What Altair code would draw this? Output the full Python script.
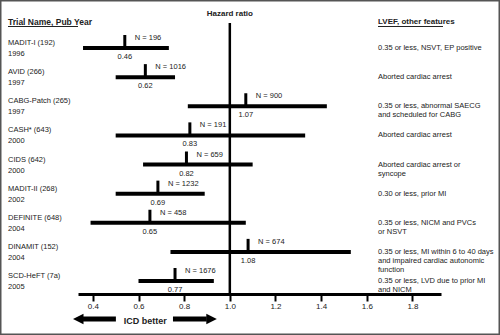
import altair as alt
import pandas as pd

trials = ["MADIT-I (192)", "AVID (266)", "CABG-Patch (265)", "CASH* (643)", "CIDS (642)",
          "MADIT-II (268)", "DEFINITE (648)", "DINAMIT (152)", "SCD-HeFT (7a)"]
years = ["1996", "1997", "1997", "2000", "2000", "2002", "2004", "2004", "2005"]
hr_pos = [0.54, 0.63, 1.07, 0.825, 0.81, 0.685, 0.65, 1.08, 0.76]
hr_label = ["0.46", "0.62", "1.07", "0.83", "0.82", "0.69", "0.65", "1.08", "0.77"]
ci_lo = [0.357, 0.50, 0.816, 0.50, 0.62, 0.50, 0.39, 0.74, 0.60]
ci_hi = [0.733, 0.76, 1.425, 1.33, 1.10, 0.89, 1.07, 1.53, 0.93]
n_label = ["N = 196", "N = 1016", "N = 900", "N = 191", "N = 659",
           "N = 1232", "N = 458", "N = 674", "N = 1676"]
features = [
    "0.35 or less, NSVT, EP positive",
    "Aborted cardiac arrest",
    "0.35 or less, abnormal SAECG\nand scheduled for CABG",
    "Aborted cardiac arrest",
    "Aborted cardiac arrest or\nsyncope",
    "0.30 or less, prior MI",
    "0.35 or less, NICM and PVCs\nor NSVT",
    "0.35 or less, MI within 6 to 40 days\nand impaired cardiac autonomic\nfunction",
    "0.35 or less, LVD due to prior MI\nand NICM",
]
tick_values = [0.4, 0.6, 0.8, 1.0, 1.2, 1.4, 1.6, 1.8]

df = pd.DataFrame({"trial": trials, "year": years, "hr": hr_pos, "hrl": hr_label,
                   "lo": ci_lo, "hi": ci_hi, "n": n_label, "feat": features})

FONT = "Liberation Sans"
TXT = "#222222"

xs = alt.Scale(domain=[0.335, 1.925], range=[78, 441], nice=False, zero=False)
ys = alt.Scale(type="point", domain=trials, range=[48, 281], padding=0)

base = alt.Chart(df)
X = lambda f: alt.X(f, type="quantitative", scale=xs)
Y = alt.Y("trial:N", scale=ys, axis=None)

# x axis carrier
axis_layer = alt.Chart(pd.DataFrame({"v": tick_values})).mark_point(opacity=0).encode(
    x=alt.X("v:Q", scale=xs,
            axis=alt.Axis(values=tick_values, format=".1f", title=None, grid=False,
                          offset=-41, domainWidth=3, domainColor="black",
                          tickWidth=2, tickColor="black", tickSize=7,
                          labelFontSize=8, labelFont=FONT, labelColor=TXT,
                          labelPadding=1)),
    y=alt.value(294),
)

ci = base.mark_rule(strokeWidth=4, color="black").encode(x=X("lo"), x2="hi", y=Y)
pt = base.mark_tick(orient="vertical", size=13, thickness=3, yOffset=-6.5, color="black",
                    opacity=1).encode(x=X("hr"), y=Y)
nl = base.mark_text(align="left", baseline="middle", dx=10, dy=-10, fontSize=7.5,
                    font=FONT, color=TXT).encode(x=X("hr"), y=Y, text="n")
hl = base.mark_text(align="center", baseline="middle", dy=9, fontSize=7.5,
                    font=FONT, color=TXT).encode(x=X("hr"), y=Y, text="hrl")
name = base.mark_text(align="left", baseline="middle", dy=-5, fontSize=7.5,
                      font=FONT, color=TXT).encode(x=alt.value(8), y=Y, text="trial")
yr = base.mark_text(align="left", baseline="middle", dy=6, fontSize=7.5,
                    font=FONT, color=TXT).encode(x=alt.value(8), y=Y, text="year")
feat = base.mark_text(align="left", baseline="middle", fontSize=7.5, lineHeight=9,
                      lineBreak="\n", font=FONT, color=TXT).encode(x=alt.value(378), y=Y, text="feat")

one = pd.DataFrame({"a": [1]})
vline = alt.Chart(one).mark_rule(strokeWidth=2.5, color="black").encode(
    x=alt.datum(1.0, scale=xs), y=alt.value(23), y2=alt.value(294))
hz = alt.Chart(one).mark_text(fontSize=8, fontWeight="bold", font=FONT, color=TXT,
                              baseline="middle").encode(
    x=alt.datum(1.0, scale=xs), y=alt.value(14), text=alt.value("Hazard ratio"))

h1 = alt.Chart(one).mark_text(fontSize=8.5, fontWeight="bold", font=FONT, color=TXT,
                              align="left", baseline="middle").encode(
    x=alt.value(8), y=alt.value(22), text=alt.value("Trial Name, Pub Year"))
u1 = alt.Chart(one).mark_rule(strokeWidth=1, color=TXT).encode(
    x=alt.value(8), x2=alt.value(78), y=alt.value(26.5))
h2 = alt.Chart(one).mark_text(fontSize=8, fontWeight="bold", font=FONT, color=TXT,
                              align="left", baseline="middle").encode(
    x=alt.value(378), y=alt.value(22), text=alt.value("LVEF, other features"))
u2 = alt.Chart(one).mark_rule(strokeWidth=1, color=TXT).encode(
    x=alt.value(378), x2=alt.value(443), y=alt.value(26.5))

# arrows
shafts = alt.Chart(pd.DataFrame({"a": [0.357, 0.751], "b": [0.501, 0.899]})).mark_rule(
    strokeWidth=5, color="black").encode(x=alt.X("a:Q", scale=xs), x2="b:Q", y=alt.value(319))
heads = alt.Chart(pd.DataFrame({"p": [0.336, 0.920],
                                "s": ["M 1 -1 L -1 0 L 1 1 Z", "M -1 -1 L 1 0 L -1 1 Z"]})).mark_point(
    filled=True, opacity=1, color="black", size=110).encode(
    x=alt.X("p:Q", scale=xs), y=alt.value(319),
    shape=alt.Shape("s:N", scale=None, legend=None))
icd = alt.Chart(one).mark_text(fontSize=9, fontWeight="bold", font=FONT, color=TXT,
                               baseline="middle").encode(
    x=alt.datum(0.63, scale=xs), y=alt.value(321), text=alt.value("ICD better"))

chart = alt.layer(axis_layer, vline, ci, pt, nl, hl, name, yr, feat, hz, h1, u1, h2, u2,
                  shafts, heads, icd).properties(
    width=500, height=335, padding=0, autosize=alt.AutoSizeParams(type="none"),
    background="white"
).configure_view(stroke="#555555", strokeWidth=3)

chart.save("out.html", embed_options={"renderer": "svg", "actions": False})
